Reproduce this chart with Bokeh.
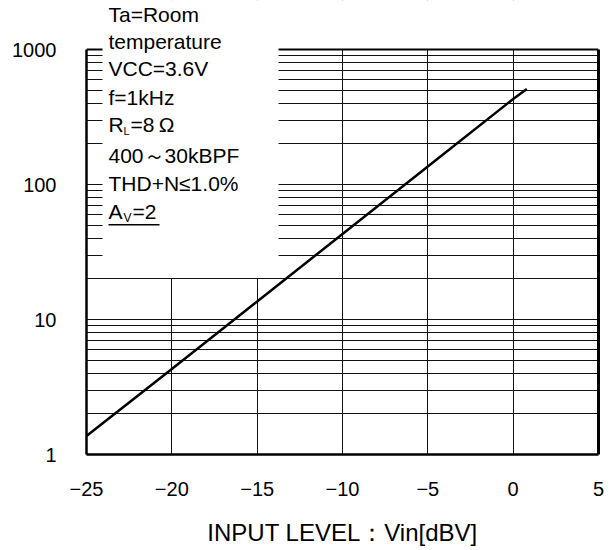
from bokeh.plotting import figure
from bokeh.models import (Range1d, FixedTicker, Label, BoxAnnotation, LogAxis, Span)
from bokeh.embed import file_html
from bokeh.resources import INLINE

# ---- data ----
vin_dbv = [-25, -20, -15, -10, -5, 0, 0.8]
pout = [1.37, 4.3, 13.6, 43, 136, 430, 510]

x_ticks = [-25, -20, -15, -10, -5, 0, 5]
x_tick_labels = ["\u221225", "\u221220", "\u221215", "\u221210", "\u22125", "0", "5"]
y_ticks = [1, 10, 100, 1000]
y_tick_labels = ["1", "10", "100", "1000"]
y_minor = [2, 3, 4, 5, 6, 7, 8, 9,
           20, 30, 40, 50, 60, 70, 80, 90,
           200, 300, 400, 500, 600, 700, 800, 900]

cond_lines = ["Ta=Room", "temperature", "VCC=3.6V", "f=1kHz",
              None, "400\uff5e30kBPF", "THD+N\u22641.0%", None]
x_title = "INPUT LEVEL\uff1aVin[dBV]"

X_MIN, X_MAX = -25, 5
Y_MIN, Y_MAX = 1, 1000

# ---- layout (pixels in the page) ----
W, H = 614, 550
F_LEFT, F_RIGHT, F_TOP, F_BOTTOM = 86, 598, 49, 454
DECADE = (F_BOTTOM - F_TOP) / 3.0
XSCALE = (F_RIGHT - F_LEFT) / (X_MAX - X_MIN)


def ypx(px):
    return 10 ** ((F_BOTTOM - px) / DECADE)


def xpx(px):
    return X_MIN + (px - F_LEFT) / XSCALE


FONT = "Liberation Sans"

p = figure(width=W, height=H, y_axis_type="log",
           x_range=Range1d(X_MIN, X_MAX), y_range=Range1d(Y_MIN, ypx(0)),
           output_backend="svg", toolbar_location=None,
           min_border_left=F_LEFT, min_border_right=W - F_RIGHT,
           min_border_top=0, min_border_bottom=H - F_BOTTOM)

p.background_fill_color = "white"
p.border_fill_color = "white"
p.outline_line_color = None

for ax in (p.xaxis[0], p.yaxis[0]):
    ax.axis_line_color = "black"
    ax.axis_line_width = 2.5
    ax.major_tick_line_color = None
    ax.minor_tick_line_color = None
    ax.major_label_text_font = FONT
    ax.major_label_text_font_size = "20px"
    ax.major_label_text_color = "black"

p.xaxis.ticker = FixedTicker(ticks=x_ticks)
p.xaxis.major_label_overrides = dict(zip(x_ticks, x_tick_labels))
p.xaxis.major_label_standoff = 21
p.xaxis.axis_label = x_title
p.xaxis.axis_label_text_font = FONT
p.xaxis.axis_label_text_font_size = "24px"
p.xaxis.axis_label_text_font_style = "normal"
p.xaxis.axis_label_text_color = "black"
p.xaxis.axis_label_standoff = 20

p.yaxis.ticker = FixedTicker(ticks=y_ticks, minor_ticks=y_minor)
p.yaxis.major_label_overrides = dict(zip(y_ticks, y_tick_labels))
p.yaxis.major_label_standoff = 24
p.yaxis.bounds = (Y_MIN, Y_MAX)

right_axis = LogAxis(ticker=FixedTicker(ticks=[]), bounds=(Y_MIN, Y_MAX),
                     axis_line_color="black", axis_line_width=3,
                     major_tick_line_color=None, minor_tick_line_color=None,
                     major_label_standoff=0)
p.add_layout(right_axis, "right")

# grids
p.xgrid.ticker = FixedTicker(ticks=x_ticks)
p.xgrid.grid_line_color = "#111111"
p.xgrid.grid_line_width = 1
p.ygrid.ticker = FixedTicker(ticks=y_ticks, minor_ticks=y_minor)
p.ygrid.grid_line_color = "#111111"
p.ygrid.grid_line_width = 1
p.ygrid.minor_grid_line_color = "#111111"
p.ygrid.minor_grid_line_width = 1

# curve
p.line(vin_dbv, pout, line_color="black", line_width=2.5)

# blank area above the chart frame
p.add_layout(BoxAnnotation(bottom=Y_MAX, fill_color="white", fill_alpha=1.0,
                           line_color=None))
# top edge of the frame
p.add_layout(Span(location=Y_MAX, dimension="width", line_color="black",
                  line_width=2))

# white box behind the conditions text
p.add_layout(BoxAnnotation(left=xpx(102), right=xpx(278), bottom=ypx(277.5),
                           fill_color="white", fill_alpha=1.0, line_color=None))

TX = xpx(108)
BASE_SHIFT = 0.42  # anchor offset of the alphabetic baseline, in em


def label(text, base, size, dx=0):
    p.add_layout(Label(x=TX, y=ypx(base - BASE_SHIFT * size), x_offset=dx,
                       text=text, text_font=FONT, text_font_size=f"{size}px",
                       text_baseline="alphabetic", text_color="black"))


baselines = [23, 50, 77, 106, 133, 164, 192, 220]
for txt, b in zip(cond_lines, baselines):
    if txt is not None:
        label(txt, b, 21)

# R_L = 8 Ω
b = baselines[4]
label("R", b, 21)
label("L", b + 2, 11, dx=15)
label("=8\u2009\u03a9", b, 21, dx=22)

# A_V = 2 (underlined)
b = baselines[7]
label("A", b, 21)
label("V", b + 3, 12, dx=15)
label("=2", b, 21, dx=24)
p.add_layout(BoxAnnotation(left=xpx(108), right=xpx(159), bottom=ypx(225),
                           top=ypx(223.5), fill_color="black", fill_alpha=1.0,
                           line_color=None))

open("out.html", "w").write(file_html(p, INLINE))
